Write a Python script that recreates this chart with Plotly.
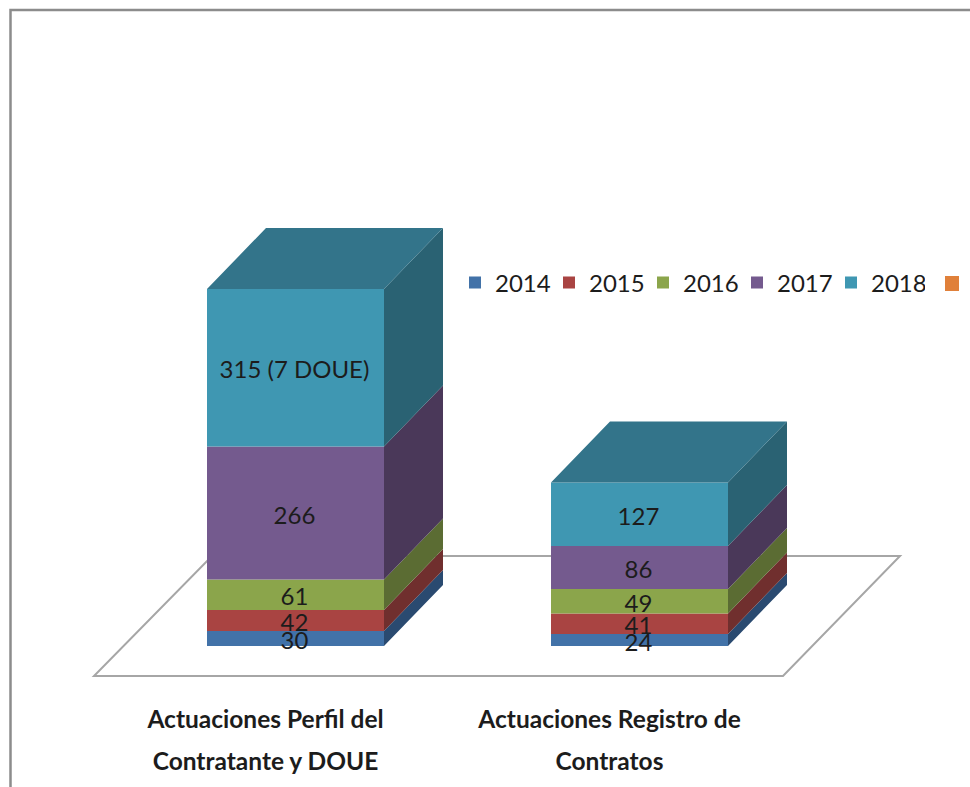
import plotly.graph_objects as go
import numpy as np

categories = ["Actuaciones Perfil del<br>Contratante y DOUE", "Actuaciones Registro de<br>Contratos"]
years = ["2014", "2015", "2016", "2017", "2018"]
v2014 = [30, 24]
v2015 = [42, 41]
v2016 = [61, 49]
v2017 = [266, 86]
v2018 = [315, 127]
label2018 = ["315 (7 DOUE)", "127"]
series = [v2014, v2015, v2016, v2017, v2018]

front = ["#4272A8", "#A94442", "#8BA54B", "#745A8E", "#3F97B2"]
side = ["#2A4A70", "#702F2E", "#5B6C33", "#4A3859", "#2A6273"]
top_col = "#33748A"
orange = "#E0803A"
txt = "#1c1c1c"
FONT = "Lato"

W, H = 970, 787
px_per_cat = 344.0
px_per_val = 0.5
x0_px, base_px, plot_bottom = 295.5, 646.0, 690.0


def xd(px):
    return (px - x0_px) / px_per_cat


def yd(py):
    return (base_px - py) / px_per_val


bar_w = 177 / px_per_cat
dx = 59 / px_per_cat
dy = 61 / px_per_val
pos = np.arange(len(categories))

fig = go.Figure()
bottom = np.zeros(len(categories))
for i, (yr, vals) in enumerate(zip(years, series)):
    vals_a = np.array(vals, dtype=float)
    fig.add_trace(go.Bar(x=pos, y=vals_a, name=yr, width=bar_w, base=bottom,
                         marker=dict(color=front[i], line=dict(width=0)), offset=-bar_w / 2))
    sx, sy = [], []
    for p, b, v in zip(pos, bottom, vals_a):
        xr = p + bar_w / 2
        sx += [xr, xr + dx, xr + dx, xr, xr, None]
        sy += [b, b + dy, b + v + dy, b + v, b, None]
    fig.add_trace(go.Scatter(x=sx, y=sy, mode="lines", fill="toself", fillcolor=side[i],
                             line=dict(width=0), hoverinfo="skip", showlegend=False))
    bottom = bottom + vals_a

tx, ty = [], []
for p, t in zip(pos, bottom):
    xl, xr = p - bar_w / 2, p + bar_w / 2
    tx += [xl, xr, xr + dx, xl + dx, xl, None]
    ty += [t, t, t + dy, t + dy, t, None]
fig.add_trace(go.Scatter(x=tx, y=ty, mode="lines", fill="toself", fillcolor=top_col,
                         line=dict(width=0), hoverinfo="skip", showlegend=False))

# value labels
bottom = np.zeros(len(categories))
for i, vals in enumerate(series):
    vals_a = np.array(vals, dtype=float)
    labels = label2018 if years[i] == "2018" else [str(v) for v in vals]
    fig.add_trace(go.Scatter(x=pos - 1 / px_per_cat, y=bottom + vals_a / 2 - 9, mode="text", text=labels,
                             textposition="middle center",
                             textfont=dict(family=FONT, size=24, color=txt),
                             hoverinfo="skip", showlegend=False))
    bottom = bottom + vals_a

# floor
floor_path = "M {} {} L {} {} L {} {} L {} {} Z".format(
    xd(94), yd(676), xd(783), yd(676), xd(900), yd(556), xd(212), yd(556))
shapes = [
    dict(type="path", path=floor_path, xref="x", yref="y", layer="below",
         line=dict(color="#a6a6a6", width=2), fillcolor="white"),
    # outer frame
    dict(type="path", xref="paper", yref="paper", layer="below",
         path="M {} {} L {} {} L {} {}".format(10.5 / W, (plot_bottom - H) / plot_bottom,
                                                10.5 / W, 1 - 10 / plot_bottom,
                                                1, 1 - 10 / plot_bottom),
         line=dict(color="#8c8c8c", width=2.5)),
    # truncated legend entry
    dict(type="rect", xref="paper", yref="paper", x0=945 / W, x1=959 / W,
         y0=1 - 291 / plot_bottom, y1=1 - 276 / plot_bottom, fillcolor=orange, line=dict(width=0)),
]

ticktext = ["<br>".join("<span style='font-size:24.5px'><b>%s</b></span>" % s for s in c.split("<br>"))
            for c in categories]

fig.update_layout(
    width=W, height=H, autosize=False,
    margin=dict(l=0, r=0, t=0, b=H - plot_bottom, pad=0),
    paper_bgcolor="white", plot_bgcolor="white",
    barmode="overlay",
    shapes=shapes,
    showlegend=True,
    legend=dict(orientation="h", x=455 / W, xanchor="left", y=1 - 283 / plot_bottom, yanchor="middle",
                entrywidth=49, entrywidthmode="pixels", traceorder="normal",
                font=dict(family=FONT, size=24, color=txt), bgcolor="rgba(0,0,0,0)",
                itemclick=False, itemdoubleclick=False),
    xaxis=dict(range=[xd(0), xd(W)], tickmode="array", tickvals=pos + xd(265.5), ticktext=ticktext,
               tickfont=dict(family=FONT, size=32, color=txt), ticks="", showgrid=False,
               zeroline=False, showline=False, tickangle=0, automargin=False, ticklabelstandoff=5),
    yaxis=dict(range=[yd(plot_bottom), yd(0)], visible=False, showgrid=False, zeroline=False),
    hovermode=False,
)
fig.write_html("out.html", config=dict(displayModeBar=False),
               post_script="document.body.style.margin='0';document.documentElement.style.overflow='hidden';")
